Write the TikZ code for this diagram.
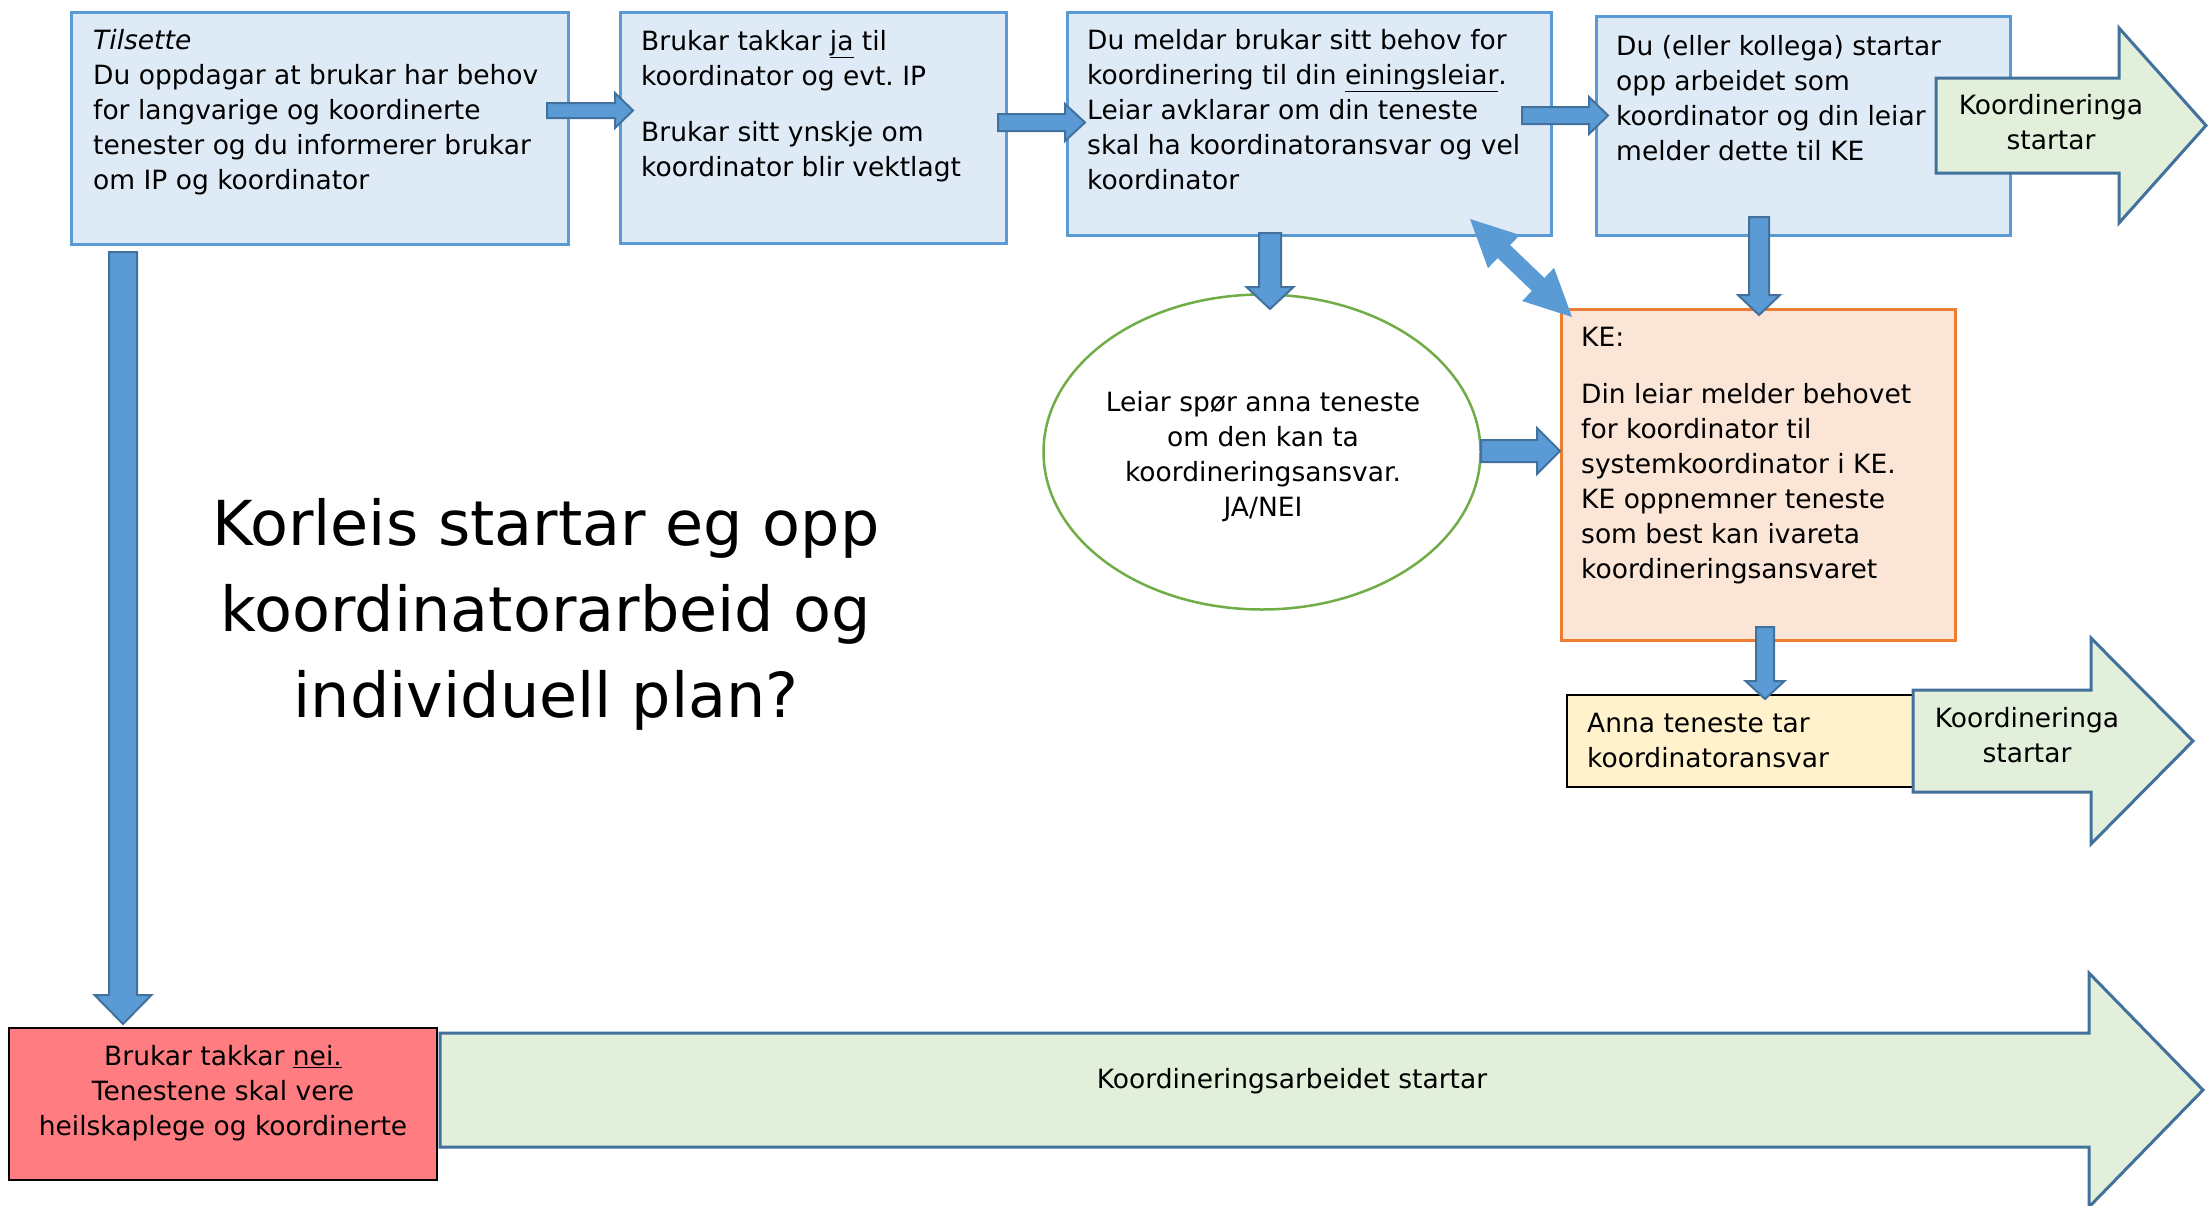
\documentclass[tikz,border=0pt]{standalone}
\usepackage{fontspec}
\setmainfont{DejaVu Sans}
\usetikzlibrary{calc,shapes.geometric}
\frenchspacing
\definecolor{boxfill}{HTML}{DEEBF7}
\definecolor{boxline}{HTML}{5B9BD5}
\definecolor{arrowfill}{HTML}{5B9BD5}
\definecolor{arrowline}{HTML}{41719C}
\definecolor{greenfill}{HTML}{E2EFDA}
\definecolor{greenline}{HTML}{41719C}
\definecolor{kefill}{HTML}{FBE5D6}
\definecolor{keline}{HTML}{ED7D31}
\definecolor{annafill}{HTML}{FFF2CC}
\definecolor{redfill}{HTML}{FF7C80}
\definecolor{ellline}{HTML}{70AD47}

\tikzset{
  bluebox/.style={draw=boxline, fill=boxfill, line width=3pt, inner sep=0pt, anchor=north west},
  kebox/.style={draw=keline, fill=kefill, line width=3pt, inner sep=0pt, anchor=north west},
  annabox/.style={draw=black, fill=annafill, line width=2pt, inner sep=0pt, anchor=north west},
  redbox/.style={draw=black, fill=redfill, line width=2pt, inner sep=0pt, anchor=north west},
  txt/.style={inner sep=0pt, anchor=north west, align=left},
  ctxt/.style={inner sep=0pt, align=center},
  blockarrowstyle/.style={fill=arrowfill, draw=arrowline, line width=2pt, line join=miter},
  greenarrow/.style={fill=greenfill, draw=greenline, line width=3pt},
}

% single-headed block arrow: #1 extra style, #2 from, #3 to, #4 shaft half width, #5 head half width, #6 head length
\newcommand{\blockarrow}[6][]{%
  \path (#2); \pgfgetlastxy{\bax}{\bay}%
  \path (#3); \pgfgetlastxy{\bbx}{\bby}%
  \pgfmathsetmacro{\bang}{atan2((\bby)-(\bay),(\bbx)-(\bax))}%
  \pgfmathsetmacro{\blen}{veclen((\bbx)-(\bax),(\bby)-(\bay))}%
  \begin{scope}[shift={(\bax,\bay)},rotate=\bang]
    \draw[blockarrowstyle,#1] (0pt,-#4pt) -- (\blen pt-#6pt,-#4pt) -- (\blen pt-#6pt,-#5pt)
      -- (\blen pt,0pt) -- (\blen pt-#6pt,#5pt) -- (\blen pt-#6pt,#4pt) -- (0pt,#4pt) -- cycle;
  \end{scope}}

% double-headed block arrow
\newcommand{\dblockarrow}[6][]{%
  \path (#2); \pgfgetlastxy{\bax}{\bay}%
  \path (#3); \pgfgetlastxy{\bbx}{\bby}%
  \pgfmathsetmacro{\bang}{atan2((\bby)-(\bay),(\bbx)-(\bax))}%
  \pgfmathsetmacro{\blen}{veclen((\bbx)-(\bax),(\bby)-(\bay))}%
  \begin{scope}[shift={(\bax,\bay)},rotate=\bang]
    \fill[arrowfill,#1] (0pt,0pt) -- (#6pt,-#5pt) -- (#6pt,-#4pt) -- (\blen pt-#6pt,-#4pt) -- (\blen pt-#6pt,-#5pt)
      -- (\blen pt,0pt) -- (\blen pt-#6pt,#5pt) -- (\blen pt-#6pt,#4pt) -- (#6pt,#4pt) -- (#6pt,#5pt) -- cycle;
  \end{scope}}

\begin{document}
\begin{tikzpicture}[x=1pt,y=-1pt,font=\fontsize{26.5}{35}\selectfont]
\useasboundingbox (0,0) rectangle (2208,1205);

% ---- boxes ----
\node[bluebox, minimum width=497, minimum height=232] (b1) at (70,11) {};
\node[bluebox, minimum width=386, minimum height=231] (b2) at (619,11) {};
\node[bluebox, minimum width=484, minimum height=223] (b3) at (1066,11) {};
\node[bluebox, minimum width=414, minimum height=219] (b4) at (1595,15) {};
\node[kebox, minimum width=394, minimum height=331] (ke) at (1560,308) {};
\node[annabox, minimum width=362, minimum height=92] (anna) at (1566,694) {};
\node[redbox, minimum width=428, minimum height=152] (red) at (8,1027) {};
\node[draw=ellline, fill=white, line width=2.5pt, ellipse, inner sep=0pt,
      minimum width=437, minimum height=315] (ell) at (1262,452) {};

% ---- green arrows ----
\draw[greenarrow] (1936,78) -- (2119,78) -- (2119,28) -- (2206,125.5) -- (2119,223) -- (2119,173) -- (1936,173) -- cycle;
\draw[greenarrow] (1913,690) -- (2091,690) -- (2091,638) -- (2193,741) -- (2091,844) -- (2091,792) -- (1913,792) -- cycle;
\draw[greenarrow] (440,1033) -- (2089,1033) -- (2089,973) -- (2203,1090) -- (2089,1207) -- (2089,1147) -- (440,1147) -- cycle;

% ---- texts ----
\node[txt] (t1) at (93,29.5) {\textit{Tilsette}\\Du oppdagar at brukar har behov\\for langvarige og koordinerte\\tenester og du informerer brukar\\om IP og koordinator};
\node[txt] (t2) at (641,30) {Brukar takkar \underline{ja} til\\koordinator og evt. IP\\[21pt]Brukar sitt ynskje om\\koordinator blir vektlagt};
\node[txt] (t3) at (1087,29) {Du meldar brukar sitt behov for\\koordinering til din \underline{einingsleiar}.\\Leiar avklarar om din teneste\\skal ha koordinatoransvar og vel\\koordinator};
\node[txt] (t4) at (1616,35) {Du (eller kollega) startar\\opp arbeidet som\\koordinator og din leiar\\melder dette til KE};
\node[txt] (tke) at (1581,327) {KE:\\[22pt]Din leiar melder behovet\\for koordinator til\\systemkoordinator i KE.\\KE oppnemner teneste\\som best kan ivareta\\koordineringsansvaret};
\node[txt] (tanna) at (1587,713) {Anna teneste tar\\koordinatoransvar};
\node[ctxt] (tell) at (1263,457) {Leiar spør anna teneste\\om den kan ta\\koordineringsansvar.\\JA/NEI};
\node[ctxt] (tred) at (223,1093.5) {Brukar takkar \underline{nei.}\\Tenestene skal vere\\heilskaplege og koordinerte};
\node[ctxt] (tg1) at (2051,122) {Koordineringa\\startar};
\node[ctxt] (tg2) at (2027,735.5) {Koordineringa\\startar};
\node[ctxt] (tg3) at (1292,1081) {Koordineringsarbeidet startar};
\node[ctxt, font=\fontsize{62}{86}\selectfont] (title) at (546,614) {Korleis startar eg opp\\koordinatorarbeid og\\individuell plan?};

% ---- connector end points ----
\coordinate (a1s) at (547,110.5);  \coordinate (a1e) at (633,110.5);
\coordinate (a2s) at (998,122.5);  \coordinate (a2e) at (1085,122.5);
\coordinate (a3s) at (1522,115.5); \coordinate (a3e) at (1608,115.5);
\coordinate (a4s) at (1270,233);   \coordinate (a4e) at (1270,309);
\coordinate (a5s) at (1759,217);   \coordinate (a5e) at (1759,315);
\coordinate (a6s) at (1481,451);   \coordinate (a6e) at (1560,451);
\coordinate (a7s) at (1765,627);   \coordinate (a7e) at (1765,699);
\coordinate (a8s) at (123,252);    \coordinate (a8e) at (123,1024);
\coordinate (d1s) at (1470,219);   \coordinate (d1e) at (1572,317);

% ---- block arrows ----
\blockarrow{a1s}{a1e}{7.5}{17.5}{18}
\blockarrow{a2s}{a2e}{8.5}{18.5}{20}
\blockarrow{a3s}{a3e}{8.5}{18.5}{19}
\blockarrow{a4s}{a4e}{11}{23.5}{22}
\blockarrow{a5s}{a5e}{10}{21}{20}
\blockarrow{a6s}{a6e}{11}{23}{23}
\blockarrow{a7s}{a7e}{9}{19.5}{18}
\blockarrow{a8s}{a8e}{14}{28.5}{29}
\dblockarrow{d1s}{d1e}{9}{23}{47}
\end{tikzpicture}
\end{document}
